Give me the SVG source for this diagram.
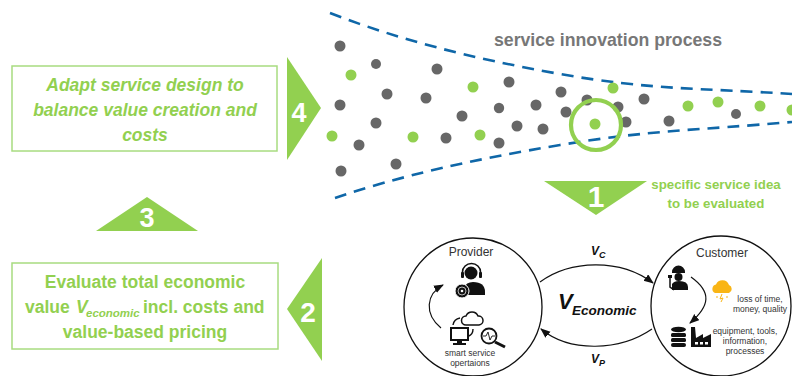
<svg xmlns="http://www.w3.org/2000/svg" width="792" height="376" viewBox="0 0 792 376">
<style>
text{font-family:"Liberation Sans",Arial,sans-serif}
.box{fill:#fff;stroke:#a8dc80;stroke-width:1.5}
.tri{fill:#92d050}
.num{fill:#fff;font-weight:700;text-anchor:middle}
.g{fill:#92d050;font-weight:700;text-anchor:middle}
.dash{fill:none;stroke:#0f67a8;stroke-width:2.6;stroke-dasharray:12 8}
.dg{fill:#676767}.dn{fill:#92d050}
.ln{fill:none;stroke:#111;stroke-width:1.2}
.k{fill:#111}
.t{fill:#333;text-anchor:middle}
</style>
<defs>
<marker id="ah" markerWidth="12" markerHeight="10" refX="9" refY="4" orient="auto" markerUnits="userSpaceOnUse"><path d="M0 0L10 4L0 8Z" fill="#111"/></marker>
</defs>
<g id="funnel">
<path class="dash" d="M330 13C400 40 470 58 560 74S700 88 792 94"/>
<path class="dash" d="M335 198C400 176 470 160 560 145S700 130 792 122"/>
<g class="dg">
<circle cx="340" cy="46" r="5.5"/><circle cx="376" cy="64" r="5"/><circle cx="437" cy="69" r="5.5"/><circle cx="509" cy="82" r="5.5"/><circle cx="387" cy="94" r="5.5"/><circle cx="426" cy="98" r="5.5"/><circle cx="340" cy="105" r="5.5"/><circle cx="499" cy="108" r="5.2"/><circle cx="536" cy="105" r="5.5"/><circle cx="462" cy="116" r="5.5"/><circle cx="376" cy="123" r="5.5"/><circle cx="517" cy="126" r="5.5"/><circle cx="543" cy="129" r="5.5"/><circle cx="446" cy="138" r="5.5"/><circle cx="359" cy="145" r="5.5"/><circle cx="499" cy="143" r="5.5"/><circle cx="396" cy="164" r="5.5"/><circle cx="341" cy="171" r="5.5"/><circle cx="561" cy="92" r="5.5"/><circle cx="566" cy="112" r="5.5"/><circle cx="587" cy="100" r="5.5"/><circle cx="618" cy="107" r="5.5"/><circle cx="626" cy="122" r="5.5"/><circle cx="644" cy="99" r="5.5"/><circle cx="669" cy="121" r="5.5"/><circle cx="736" cy="114" r="5"/>
</g>
<g class="dn">
<circle cx="351" cy="75" r="5.5"/><circle cx="473" cy="87" r="5.5"/><circle cx="332" cy="136" r="5.5"/><circle cx="413" cy="137" r="5.5"/><circle cx="480" cy="135" r="5.5"/><circle cx="613" cy="88" r="5.5"/><circle cx="595" cy="124" r="5.5"/><circle cx="688" cy="106" r="5.5"/><circle cx="718" cy="102" r="5.5"/><circle cx="760" cy="106" r="5.5"/><circle cx="792" cy="110" r="5.5"/>
</g>
<circle cx="596" cy="125" r="25" fill="none" stroke="#92d050" stroke-width="4.2"/>
<text x="608" y="46" text-anchor="middle" font-size="17.7" font-weight="700" fill="#777">service innovation process</text>
</g>
<g id="step1">
<path class="tri" d="M544 181H647L596 215Z"/>
<text class="num" x="596" y="207" font-size="30">1</text>
<text class="g" x="716" y="189" font-size="13.3">specific service idea</text>
<text class="g" x="716" y="208" font-size="13.3">to be evaluated</text>
</g>
<g id="step4">
<rect class="box" x="12" y="66" width="265" height="85"/>
<text class="g" x="145" y="91" font-size="17.5" font-style="italic">Adapt service design to</text>
<text class="g" x="145" y="116" font-size="17.5" font-style="italic">balance value creation and</text>
<text class="g" x="145" y="141" font-size="17.5" font-style="italic">costs</text>
<path class="tri" d="M287 57L321 108L287 160Z"/>
<text class="num" x="299" y="122" font-size="27">4</text>
</g>
<g id="step3">
<path class="tri" d="M96 231L147 197L198 231Z"/>
<text class="num" x="147" y="227" font-size="27">3</text>
</g>
<g id="step2">
<rect class="box" x="12" y="263" width="266" height="86"/>
<text class="g" x="145" y="288" font-size="17.5">Evaluate total economic</text>
<text x="25" y="313" font-size="17.5" font-weight="700" fill="#92d050">value</text>
<text x="76" y="313" font-size="17.5" font-weight="700" font-style="italic" fill="#92d050">V</text>
<text x="86" y="317" font-size="11.5" font-weight="700" font-style="italic" fill="#92d050">economic</text>
<text x="143" y="313" font-size="17.5" font-weight="700" fill="#92d050">incl. costs and</text>
<text class="g" x="145" y="338" font-size="17.5">value-based pricing</text>
<path class="tri" d="M322 258L287 309L322 361Z"/>
<text class="num" x="308" y="322" font-size="28">2</text>
</g>
<g id="provider">
<circle cx="473" cy="307" r="69" fill="#fff" stroke="#111" stroke-width="1.3"/>
<text class="t" x="471" y="256" font-size="12">Provider</text>
<circle class="k" cx="471" cy="273" r="6.5"/>
<path d="M462.500 276V272A9 8.500 0 0 1 480.500 272V276" fill="none" stroke="#111" stroke-width="1.6"/>
<rect class="k" x="461" y="272" width="3" height="6" rx="1"/><rect class="k" x="479" y="272" width="3" height="6" rx="1"/>
<path class="k" d="M464 295V288Q466 282 473 282Q485 282 485 292V295Z"/>
<circle class="k" cx="462" cy="291" r="7" stroke="#fff" stroke-width="1"/>
<circle cx="462" cy="291" r="4" fill="none" stroke="#fff" stroke-width=".7"/><circle cx="462" cy="291" r="1.300" fill="#fff"/>
<path class="ln" marker-end="url(#ah)" d="M441 328C424 314 426 294 443 285"/>
<path d="M466 325A4.500 4.500 0 0 1 466 316A6.500 6.500 0 0 1 478 316A4.500 4.500 0 0 1 479 325Z" fill="#fff" stroke="#111" stroke-width="1.5"/>
<rect x="451" y="328" width="17" height="12" fill="#fff" stroke="#111" stroke-width="2"/>
<rect class="k" x="457" y="340" width="5" height="3"/><rect class="k" x="453" y="343" width="13" height="2"/>
<path d="M453 325Q454 319 460 318M473 329Q473 334 469 336" fill="none" stroke="#111" stroke-width="1.400"/>
<circle cx="489" cy="336" r="7.500" fill="#fff" stroke="#111" stroke-width="1.800"/>
<path d="M495 342L505 347" stroke="#111" stroke-width="3"/>
<path d="M483 336H486L488 332L490 340L492 336H495" fill="none" stroke="#111" stroke-width=".9"/>
<text class="t" x="470" y="356" font-size="8.500">smart service</text>
<text class="t" x="470" y="366" font-size="8.500">opertaions</text>
</g>
<g id="customer">
<circle cx="721" cy="306" r="70" fill="#fff" stroke="#111" stroke-width="1.3"/>
<text class="t" x="722" y="257" font-size="12">Customer</text>
<path class="k" d="M672 272A6.500 6.500 0 0 1 685 272V273H672Z"/>
<circle class="k" cx="678.500" cy="277" r="4"/>
<path class="k" d="M672 290V284Q674 281 679 281Q688 281 688 287V290Z"/>
<path d="M670 276V287L674 290" fill="none" stroke="#111" stroke-width="1.500"/>
<rect class="k" x="668" y="275" width="4" height="3"/>
<path class="ln" marker-end="url(#ah)" d="M691 277C712 292 710 306 690 323"/>
<path d="M715 293A4.500 4.500 0 0 1 716 284.500A7 7 0 0 1 729 285A4.300 4.300 0 0 1 729 293Z" fill="#f9b515"/>
<path d="M722 294L720 299L723 298L721 302M717 296V298M727 296V298" fill="none" stroke="#f9b515" stroke-width="1"/>
<text class="t" x="760" y="302" font-size="8.500">loss of time,</text>
<text class="t" x="760" y="312" font-size="8.500">money, quality</text>
<g class="k"><ellipse cx="678.500" cy="329.500" rx="7.500" ry="2.800"/><rect x="671" y="333" width="15" height="4" rx="1.500"/><rect x="671" y="338" width="15" height="4" rx="1.500"/><rect x="671" y="343" width="15" height="4" rx="2"/></g>
<path class="k" d="M691 347V327H695L696 338L703 334V338L711 334V347Z"/>
<rect x="695" y="342" width="3" height="2.500" fill="#fff"/><rect x="700" y="342" width="3" height="2.500" fill="#fff"/><rect x="705" y="342" width="3" height="2.500" fill="#fff"/>
<text class="t" x="745" y="334" font-size="8.500">equipment, tools,</text>
<text class="t" x="745" y="344" font-size="8.500">information,</text>
<text class="t" x="745" y="354" font-size="8.500">processes</text>
</g>
<g id="connectors">
<path class="ln" marker-end="url(#ah)" d="M540 282C570 260 620 258 653 283"/>
<path class="ln" marker-end="url(#ah)" d="M652 329C620 351 570 353 541 329"/>
</g>
<g id="labels" fill="#111" font-weight="700" font-style="italic">
<text x="591" y="255" font-size="12">V</text><text x="599" y="258" font-size="9">C</text>
<text x="591" y="363" font-size="12">V</text><text x="599" y="366" font-size="9">P</text>
<text x="558" y="309" font-size="22">V</text><text x="572" y="315" font-size="13.500">Economic</text>
</g>
</svg>
